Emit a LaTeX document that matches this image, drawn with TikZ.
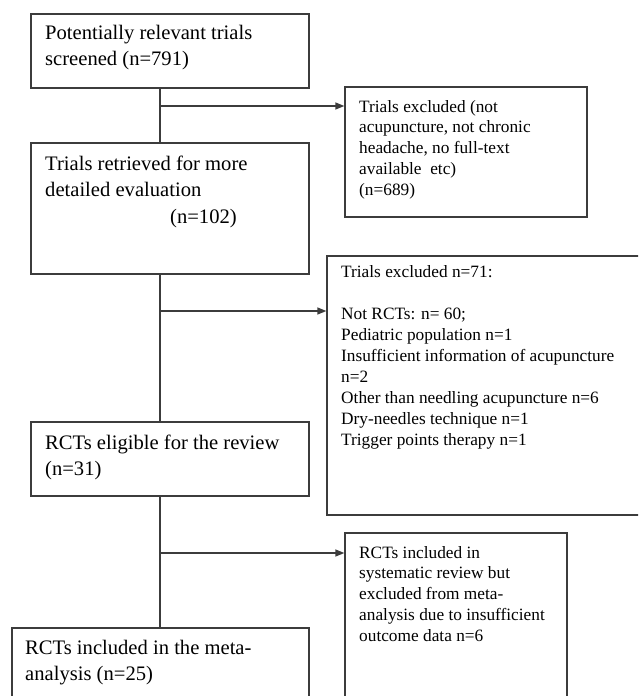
\documentclass[tikz,border=0pt]{standalone}
\usepackage{fontspec}
\setmainfont{Liberation Serif}
\usetikzlibrary{arrows.meta}
\definecolor{linec}{RGB}{60,60,60}
\begin{document}
\begin{tikzpicture}[x=1pt,y=-1pt,
  box/.style={draw=linec,line width=1.3pt,rectangle,inner sep=0pt},
  lt/.style={anchor=base west,inner sep=0pt,align=left,font=\fontsize{20.6}{26.5}\selectfont},
  rt/.style={anchor=base west,inner sep=0pt,align=left,font=\fontsize{17.3}{20.8}\selectfont},
  conn/.style={draw=linec,line width=1.3pt},
  arr/.style={conn,-{Triangle[length=9pt,width=7pt]}}]
\clip (0,0) rectangle (638,696);
\fill[white] (0,0) rectangle (638,696);
% boxes
\node[box,minimum width=278pt,minimum height=74pt] (B1) at (170,51) {};
\node[box,minimum width=278pt,minimum height=131pt] (B2) at (170,208.5) {};
\node[box,minimum width=278pt,minimum height=74pt] (B3) at (170,459) {};
\node[box,minimum width=297pt,minimum height=92pt] (B4) at (160.5,674) {};
\node[box,minimum width=242pt,minimum height=130pt] (R1) at (466,152) {};
\node[box,minimum width=333pt,minimum height=259pt] (R2) at (493.5,385.5) {};
\node[box,minimum width=222pt,minimum height=187pt] (R3) at (456,626.5) {};
% texts (anchored at the baseline of their last line)
\node[lt] (T1) at (45,65.5) {Potentially relevant trials\\screened (n=791)};
\node[lt] (T2) at (45,223) {Trials retrieved for more\\detailed evaluation\\\hspace*{125pt}(n=102)};
\node[lt] (T3) at (45,475.5) {RCTs eligible for the review\\(n=31)};
\node[lt] (T4) at (25,680.5) {RCTs included in the meta-\\analysis (n=25)};
\node[rt] (U1) at (359,195.2) {Trials excluded (not\\acupuncture, not chronic\\headache, no full-text\\available\ \ etc)\\(n=689)};
\node[rt,font=\fontsize{17.3}{21}\selectfont] (U2) at (341,445) {Trials excluded n=71:\\\mbox{}\\Not RCTs: n= 60;\\Pediatric population n=1\\Insufficient information of acupuncture\\n=2\\Other than needling acupuncture n=6\\Dry-needles technique n=1\\Trigger points therapy n=1};
\node[rt] (U3) at (359,641.2) {RCTs included in\\systematic review but\\excluded from meta-\\analysis due to insufficient\\outcome data n=6};
% junctions
\coordinate (j1) at (160,106);
\coordinate (j2) at (160,311);
\coordinate (j3) at (160,553);
% connectors
\draw[conn] (B1.south -| j1) -- (B2.north -| j1);
\draw[arr] (j1) -- (R1.west |- j1);
\draw[conn] (B2.south -| j2) -- (B3.north -| j2);
\draw[arr] (j2) -- (R2.west |- j2);
\draw[conn] (B3.south -| j3) -- (B4.north -| j3);
\draw[arr] (j3) -- (R3.west |- j3);
\end{tikzpicture}
\end{document}
